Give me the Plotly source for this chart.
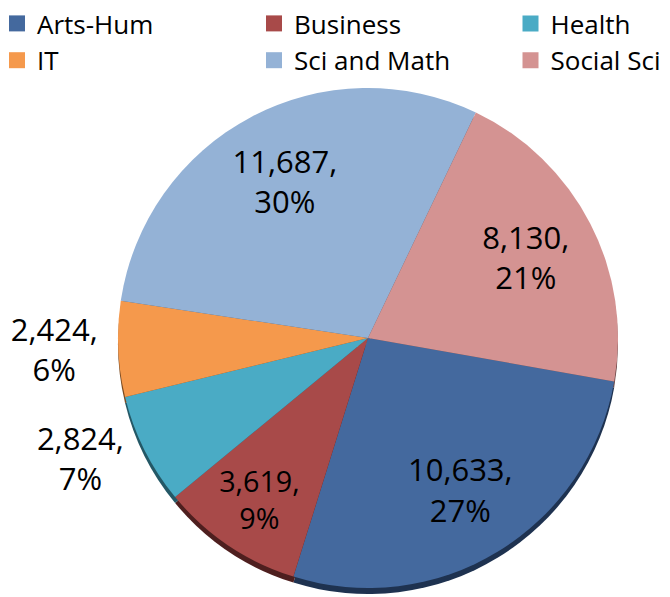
import plotly.graph_objects as go

categories = ["Arts-Hum", "Business", "Health", "IT", "Sci and Math", "Social Sci"]
values = [10633, 3619, 2824, 2424, 11687, 8130]
colors = ["#44699E", "#A84A49", "#4AABC5", "#F5994C", "#94B2D6", "#D49392"]
shadow_colors = ["#1E3250", "#4E1F1F", "#245866", "#7A4A20", "#4A5A6C", "#6A4848"]
# which labels sit in the solid pie (small slices) and which in the ring overlay (big slices)
main_label_pos = ["none", "inside", "outside", "outside", "none", "none"]
ring_label_pos = ["inside", "none", "none", "none", "inside", "inside"]
legend_columns = ["legend", "legend2", "legend3", "legend", "legend2", "legend3"]

FONT = "'Open Sans', Lato, sans-serif"
W, H = 670, 597
cx, cy, r = 368, 338, 250
shadow_dy = 6


def dom(dy=0):
    return dict(x=[(cx - r) / W, (cx + r) / W],
                y=[1 - (cy + dy + r) / H, 1 - (cy + dy - r) / H])


common = dict(labels=categories, values=values, sort=False, direction="clockwise",
              rotation=100, showlegend=False)
label_font = dict(family=FONT, size=31, color="black")
tmpl = "%{value:,},<br>%{percent:.0%}"

fig = go.Figure()
# soft 3D rim shadow
fig.add_trace(go.Pie(**common, marker=dict(colors=shadow_colors, line=dict(width=0)),
                     textposition="none", hoverinfo="skip", domain=dom(shadow_dy)))
# main pie
fig.add_trace(go.Pie(**common, marker=dict(colors=colors, line=dict(width=0)),
                     texttemplate=tmpl, textposition=main_label_pos,
                     insidetextorientation="horizontal", textfont=label_font,
                     hoverinfo="label+value+percent", domain=dom()))
# transparent ring overlay carrying the labels of the large slices
fig.add_trace(go.Pie(**common, hole=0.42,
                     marker=dict(colors=["rgba(0,0,0,0)"] * len(values), line=dict(width=0)),
                     texttemplate=tmpl, textposition=ring_label_pos,
                     insidetextorientation="horizontal", textfont=label_font,
                     hoverinfo="skip", domain=dom()))

# legend entries (one per category), arranged in three columns
for name, col, lg in zip(categories, colors, legend_columns):
    fig.add_trace(go.Scatter(
        x=[None], y=[None], mode="markers", name=name,
        marker=dict(symbol="square", size=16, color=col),
        legend=lg, showlegend=True, hoverinfo="skip",
    ))

legend_common = dict(
    orientation="v", yanchor="top", y=1, xanchor="left",
    font=dict(family=FONT, size=26, color="black"),
    bgcolor="rgba(0,0,0,0)", borderwidth=0, indentation=-3,
)
fig.update_layout(
    width=W, height=H,
    margin=dict(l=0, r=0, t=0, b=0, autoexpand=False),
    paper_bgcolor="white", plot_bgcolor="white",
    xaxis=dict(visible=False), yaxis=dict(visible=False),
    legend=dict(x=0, **legend_common),
    legend2=dict(x=257 / W, **legend_common),
    legend3=dict(x=513.5 / W, **legend_common),
)

fig.write_html("out.html", config={"displayModeBar": False},
               post_script="document.body.style.margin='0';")
